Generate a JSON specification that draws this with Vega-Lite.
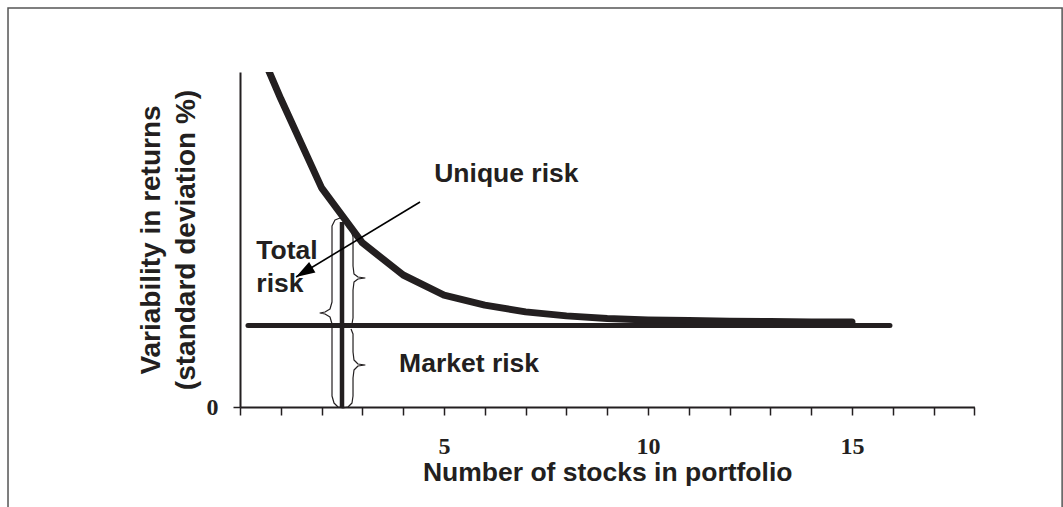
{
  "$schema": "https://vega.github.io/schema/vega-lite/v6.json",
  "width": 734.4,
  "height": 335,
  "autosize": {"type": "none"},
  "padding": {"left": 240, "top": 72, "right": 88.6, "bottom": 100},
  "config": {"view": {"stroke": null}, "font": "Liberation Sans"},
  "datasets": {
    "curve": [
      {"x": 0.59, "y": 103.6}, {"x": 1, "y": 92.0}, {"x": 2, "y": 65.4}, {"x": 3, "y": 49.0},
      {"x": 4, "y": 39.4}, {"x": 5, "y": 33.4}, {"x": 6, "y": 30.4}, {"x": 7, "y": 28.4},
      {"x": 8, "y": 27.2}, {"x": 9, "y": 26.4}, {"x": 10, "y": 26.0}, {"x": 11, "y": 25.8},
      {"x": 12, "y": 25.6}, {"x": 13, "y": 25.5}, {"x": 14, "y": 25.4}, {"x": 15, "y": 25.4}
    ],
    "market": [{"x": 0.196, "y": 24.3}, {"x": 15.93, "y": 24.3}],
    "vline": [{"x": 2.5, "y": 0}, {"x": 2.5, "y": 55.2}],
    "braces": [
      {"s": "A", "i": 1, "x": 2.574, "y": 55.52}, {"s": "A", "i": 2, "x": 2.451, "y": 56.42},
      {"s": "A", "i": 3, "x": 2.328, "y": 55.82}, {"s": "A", "i": 4, "x": 2.255, "y": 54.03},
      {"s": "A", "i": 5, "x": 2.255, "y": 31.34}, {"s": "A", "i": 6, "x": 2.206, "y": 29.25},
      {"s": "A", "i": 7, "x": 2.083, "y": 28.36}, {"s": "A", "i": 8, "x": 1.961, "y": 28.06},
      {"s": "A", "i": 9, "x": 2.083, "y": 27.76}, {"s": "A", "i": 10, "x": 2.206, "y": 26.87},
      {"s": "A", "i": 11, "x": 2.255, "y": 24.78}, {"s": "A", "i": 12, "x": 2.255, "y": 3.28},
      {"s": "A", "i": 13, "x": 2.304, "y": 1.19}, {"s": "A", "i": 14, "x": 2.402, "y": 0.0},
      {"s": "A", "i": 15, "x": 2.525, "y": -0.3}, {"s": "A", "i": 16, "x": 2.647, "y": 0.0},
      {"s": "A", "i": 17, "x": 2.745, "y": 1.19}, {"s": "A", "i": 18, "x": 2.77, "y": 3.28},
      {"s": "A", "i": 19, "x": 2.77, "y": 8.66}, {"s": "A", "i": 20, "x": 2.794, "y": 11.04},
      {"s": "A", "i": 21, "x": 2.892, "y": 12.24}, {"s": "A", "i": 22, "x": 3.064, "y": 12.54},
      {"s": "A", "i": 23, "x": 2.892, "y": 12.84}, {"s": "A", "i": 24, "x": 2.794, "y": 14.03},
      {"s": "A", "i": 25, "x": 2.77, "y": 16.42}, {"s": "A", "i": 26, "x": 2.77, "y": 21.79},
      {"s": "A", "i": 27, "x": 2.721, "y": 23.28},
      {"s": "B", "i": 1, "x": 2.623, "y": 53.73}, {"s": "B", "i": 2, "x": 2.721, "y": 52.84},
      {"s": "B", "i": 3, "x": 2.77, "y": 50.75}, {"s": "B", "i": 4, "x": 2.77, "y": 42.09},
      {"s": "B", "i": 5, "x": 2.794, "y": 39.7}, {"s": "B", "i": 6, "x": 2.892, "y": 38.81},
      {"s": "B", "i": 7, "x": 3.064, "y": 38.51}, {"s": "B", "i": 8, "x": 2.892, "y": 38.21},
      {"s": "B", "i": 9, "x": 2.794, "y": 37.31}, {"s": "B", "i": 10, "x": 2.77, "y": 34.93},
      {"s": "B", "i": 11, "x": 2.77, "y": 26.57}, {"s": "B", "i": 12, "x": 2.745, "y": 24.78},
      {"s": "B", "i": 13, "x": 2.672, "y": 23.88}
    ],
    "arrow": [{"x": 4.412, "y": 61.19, "x2": 1.373, "y2": 38.81}],
    "head": [{"x": 1.373, "y": 38.81}],
    "labels": [
      {"x": 4.76, "y": 67.16, "t": "Unique risk"},
      {"x": 0.4, "y": 44.18, "t": "Total"},
      {"x": 0.4, "y": 34.33, "t": "risk"},
      {"x": 3.9, "y": 10.45, "t": "Market risk"}
    ],
    "frame": [{"x": -5.686, "y": 119.1, "x2": 20.15, "y2": -31}]
  },
  "encoding": {
    "x": {
      "field": "x", "type": "quantitative",
      "scale": {"domain": [0, 18], "nice": false, "zero": false},
      "axis": {
        "title": "Number of stocks in portfolio",
        "values": [0, 1, 2, 3, 4, 5, 6, 7, 8, 9, 10, 11, 12, 13, 14, 15, 16, 17, 18],
        "labelExpr": "datum.value % 5 == 0 && datum.value > 0 ? datum.label : ''",
        "grid": false,
        "domainColor": "#231f20", "domainWidth": 2,
        "tickColor": "#231f20", "tickWidth": 1.5, "tickSize": 8,
        "labelFont": "Liberation Serif", "labelFontWeight": "bold", "labelFontSize": 24,
        "labelColor": "#231f20", "labelPadding": 19, "labelFlush": false, "labelOverlap": false,
        "titleFont": "Liberation Sans", "titleFontSize": 26.5, "titleFontWeight": "bold",
        "titleColor": "#231f20", "titlePadding": 1
      }
    },
    "y": {
      "field": "y", "type": "quantitative",
      "scale": {"domain": [0, 100], "nice": false, "zero": false},
      "axis": {
        "title": ["Variability in returns", "(standard deviation %)"],
        "values": [0],
        "grid": false,
        "domainColor": "#231f20", "domainWidth": 2,
        "tickColor": "#231f20", "tickWidth": 1.5, "tickSize": 7,
        "labelFont": "Liberation Serif", "labelFontWeight": "bold", "labelFontSize": 24,
        "labelColor": "#231f20", "labelPadding": 15,
        "titleFont": "Liberation Sans", "titleFontSize": 28, "titleFontWeight": "bold",
        "titleColor": "#231f20", "titlePadding": 6, "titleLineHeight": 35
      }
    }
  },
  "layer": [
    {
      "data": {"name": "frame"},
      "mark": {"type": "rect", "fill": null, "stroke": "#555555", "strokeWidth": 1.5},
      "encoding": {"x2": {"field": "x2"}, "y2": {"field": "y2"}}
    },
    {
      "data": {"name": "market"},
      "mark": {"type": "line", "color": "#231f20", "strokeWidth": 5, "strokeCap": "round"},
      "encoding": {}
    },
    {
      "data": {"name": "curve"},
      "mark": {"type": "line", "color": "#231f20", "strokeWidth": 7, "strokeCap": "round", "strokeJoin": "round", "clip": true},
      "encoding": {}
    },
    {
      "data": {"name": "vline"},
      "mark": {"type": "line", "color": "#231f20", "strokeWidth": 4.5},
      "encoding": {}
    },
    {
      "data": {"name": "braces"},
      "mark": {"type": "line", "color": "#231f20", "strokeWidth": 1.2, "strokeJoin": "round"},
      "encoding": {"order": {"field": "i", "type": "quantitative"}, "detail": {"field": "s"}}
    },
    {
      "data": {"name": "arrow"},
      "mark": {"type": "rule", "color": "#000000", "strokeWidth": 1.6},
      "encoding": {"x2": {"field": "x2"}, "y2": {"field": "y2"}}
    },
    {
      "data": {"name": "head"},
      "mark": {"type": "point", "shape": "M0,0L0.32,1L-0.32,1Z", "filled": true, "color": "#000000", "opacity": 1, "size": 1444, "angle": 238.9},
      "encoding": {}
    },
    {
      "data": {"name": "labels"},
      "mark": {"type": "text", "align": "left", "baseline": "alphabetic", "font": "Liberation Sans", "fontWeight": "bold", "fontSize": 26.5, "color": "#231f20"},
      "encoding": {"text": {"field": "t"}}
    }
  ]
}
